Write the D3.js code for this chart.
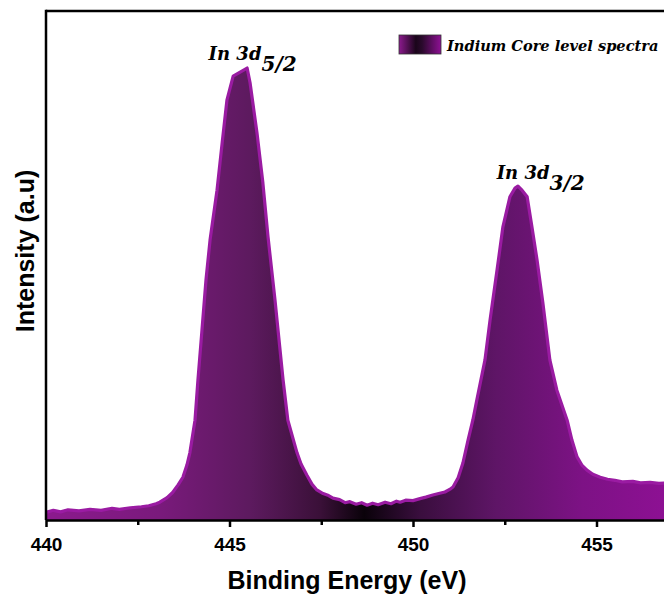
<!DOCTYPE html>
<html>
<head>
<meta charset="utf-8">
<script src="https://cdn.jsdelivr.net/npm/d3@7"></script>
<style>
  body { margin: 0; background: #fff; }
  svg { display: block; }
</style>
</head>
<body>
<script>
// Binding energy (eV)
var energy = [440.0, 440.2, 440.4, 440.6, 440.9, 441.2, 441.5, 441.8, 442.0, 442.3, 442.6, 442.8, 443.0,
  443.1, 443.3, 443.45, 443.6, 443.73, 443.84, 443.92, 444.06, 444.14, 444.25, 444.36, 444.47, 444.66,
  444.8, 444.93, 445.1, 445.29, 445.48, 445.56, 445.75, 445.91, 446.05, 446.24, 446.46, 446.59, 446.84,
  446.95, 447.11, 447.25, 447.38, 447.55, 447.7, 447.82, 448.0, 448.15, 448.28, 448.45, 448.6, 448.75,
  448.9, 449.05, 449.24, 449.4, 449.55, 449.65, 449.8, 450.0, 450.19, 450.35, 450.54, 450.7, 450.87,
  451.0, 451.09, 451.23, 451.36, 451.5, 451.63, 451.74, 451.96, 452.1, 452.29, 452.45, 452.64, 452.78,
  452.86, 452.97, 453.11, 453.24, 453.38, 453.54, 453.73, 453.92, 454.2, 454.33, 454.47, 454.6, 454.74,
  454.9, 455.1, 455.3, 455.5, 455.7, 455.99, 456.2, 456.46, 456.7, 457.0];

// Intensity (a.u), 0-100 scale
var intensity = [1.5, 1.9, 1.6, 2.0, 1.8, 2.1, 1.9, 2.3, 2.1, 2.4, 2.6, 2.8, 3.2,
  3.5, 4.4, 5.4, 6.9, 8.4, 10.8, 13.2, 19.6, 27.5, 37.3, 47.2, 55.0, 64.8,
  74.1, 82.5, 87.2, 88.0, 88.8, 85.9, 76.0, 66.2, 55.6, 43.2, 27.5, 19.6, 13.2,
  11.0, 8.8, 7.0, 5.9, 5.2, 4.8, 4.3, 4.0, 3.4, 3.6, 3.1, 3.4, 2.9,
  3.3, 3.0, 3.5, 3.2, 3.7, 3.5, 3.9, 3.8, 4.2, 4.5, 4.9, 5.2, 5.5,
  6.0, 6.5, 8.3, 11.2, 15.7, 19.6, 23.6, 31.4, 39.3, 49.1, 57.6, 63.5, 65.2,
  65.6, 64.8, 63.5, 57.6, 51.1, 42.6, 31.4, 25.5, 19.6, 15.7, 12.4, 10.8, 9.8,
  9.0, 8.4, 8.0, 7.8, 7.5, 7.6, 7.3, 7.4, 7.2, 7.3];

var xTicks = [440, 445, 450, 455];
var xMinorTicks = [442.5, 447.5, 452.5, 457.5];

var peakLabels = [
  {main: "In 3d", sub: "5/2", e: 444.43, v: 90.3},
  {main: "In 3d", sub: "3/2", e: 452.28, v: 67.0}
];

var width = 664, height = 599;
var margin = {top: 11, left: 46, bottom: 79};

var svg = d3.select("body").append("svg")
  .attr("width", width)
  .attr("height", height);

var x = d3.scaleLinear()
  .domain([440, 457])
  .range([margin.left, margin.left + 17 * 36.7]);

var y = d3.scaleLinear()
  .domain([0, 100])
  .range([height - margin.bottom, margin.top]);

var data = energy.map(function(e, i) { return {e: e, v: intensity[i]}; });

// horizontal gradient purple -> black -> purple
var defs = svg.append("defs");
var grad = defs.append("linearGradient")
  .attr("id", "specGrad")
  .attr("gradientUnits", "userSpaceOnUse")
  .attr("x1", x(440)).attr("x2", x(457))
  .attr("y1", 0).attr("y2", 0);
var stops = [
  [0, "#8c1a8e"], [0.18, "#7a1a7c"], [0.33, "#5c1a5e"], [0.44, "#3a1038"],
  [0.51, "#0a020a"], [0.6, "#3a0e3e"], [0.72, "#5e1566"], [0.86, "#7d1285"], [1, "#8e1094"]
];
grad.selectAll("stop").data(stops).enter().append("stop")
  .attr("offset", function(d) { return d[0]; })
  .attr("stop-color", function(d) { return d[1]; });

var leg = defs.append("linearGradient").attr("id", "legGrad");
leg.selectAll("stop").data([[0, "#8c1a8e"], [0.4, "#1a051a"], [0.55, "#2a0a2c"], [1, "#8e1094"]])
  .enter().append("stop")
  .attr("offset", function(d) { return d[0]; })
  .attr("stop-color", function(d) { return d[1]; });

var area = d3.area()
  .x(function(d) { return x(d.e); })
  .y0(y(0))
  .y1(function(d) { return y(d.v); });

var line = d3.line()
  .x(function(d) { return x(d.e); })
  .y(function(d) { return y(d.v); });

svg.append("path")
  .datum(data)
  .attr("d", area)
  .attr("fill", "url(#specGrad)");

svg.append("path")
  .datum(data)
  .attr("d", line)
  .attr("fill", "none")
  .attr("stroke", "#9a1ba2")
  .attr("stroke-width", 3.2)
  .attr("stroke-linejoin", "round");

// frame: top + left
svg.append("line")
  .attr("x1", x(440)).attr("x2", width)
  .attr("y1", y(100)).attr("y2", y(100))
  .attr("stroke", "#000").attr("stroke-width", 2.5);
svg.append("line")
  .attr("x1", x(440)).attr("x2", x(440))
  .attr("y1", y(100) - 1.2).attr("y2", y(0))
  .attr("stroke", "#000").attr("stroke-width", 2.5);

// x axis
var xAxis = svg.append("g")
  .attr("transform", "translate(0," + y(0) + ")")
  .call(d3.axisBottom(x).tickValues(xTicks).tickSize(7).tickSizeOuter(0).tickPadding(11)
    .tickFormat(d3.format("d")));
xAxis.select(".domain").attr("stroke-width", 2.5);
xAxis.selectAll(".tick line").attr("stroke-width", 2.5);
xAxis.selectAll(".tick text")
  .attr("font-family", "'Liberation Sans', Arial, sans-serif")
  .attr("font-weight", "bold")
  .attr("font-size", 19)
  .attr("fill", "#000");

var xMinor = svg.append("g")
  .attr("transform", "translate(0," + y(0) + ")")
  .call(d3.axisBottom(x).tickValues(xMinorTicks).tickSize(5).tickSizeOuter(0).tickFormat(""));
xMinor.select(".domain").remove();
xMinor.selectAll(".tick line").attr("stroke-width", 2.5);

// axis titles
svg.append("text")
  .attr("x", 347).attr("y", 589)
  .attr("text-anchor", "middle")
  .attr("font-family", "'Liberation Sans', Arial, sans-serif")
  .attr("font-weight", "bold")
  .attr("font-size", 25)
  .text("Binding Energy (eV)");

svg.append("text")
  .attr("transform", "translate(34,251) rotate(-90)")
  .attr("text-anchor", "middle")
  .attr("font-family", "'Liberation Sans', Arial, sans-serif")
  .attr("font-weight", "bold")
  .attr("font-size", 25)
  .text("Intensity (a.u)");

// peak labels
var pl = svg.selectAll(".peak").data(peakLabels).enter().append("text")
  .attr("class", "peak")
  .attr("x", function(d) { return x(d.e); })
  .attr("y", function(d) { return y(d.v); })
  .attr("font-family", "'DejaVu Serif', serif")
  .attr("font-weight", "bold")
  .attr("font-style", "italic")
  .attr("font-size", 18);
pl.append("tspan").text(function(d) { return d.main; });
pl.append("tspan").attr("dy", 11).attr("font-size", 20).text(function(d) { return d.sub; });

// legend
svg.append("rect")
  .attr("x", 399).attr("y", 35)
  .attr("width", 42).attr("height", 19)
  .attr("fill", "url(#legGrad)")
  .attr("stroke", "#333").attr("stroke-width", 0.8);
svg.append("text")
  .attr("x", 447).attr("y", 51)
  .attr("font-family", "'DejaVu Serif', serif")
  .attr("font-weight", "bold")
  .attr("font-style", "italic")
  .attr("font-size", 14.6)
  .text("Indium Core level spectra");
</script>
</body>
</html>
